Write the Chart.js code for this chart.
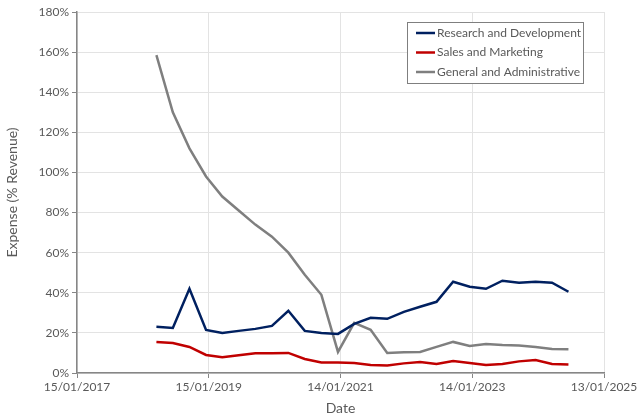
<!DOCTYPE html>
<html>
<head>
<meta charset="utf-8">
<script src="https://cdn.jsdelivr.net/npm/chart.js@4/dist/chart.umd.min.js"></script>
<style>
html,body{margin:0;padding:0;background:#fff;}
#wrap{width:640px;height:417px;position:relative;}
</style>
</head>
<body>
<div id="wrap"><canvas id="c" width="640" height="417"></canvas></div>
<script>
const dates = ['2018-03-31','2018-06-30','2018-09-30','2018-12-31',
  '2019-03-31','2019-06-30','2019-09-30','2019-12-31',
  '2020-03-31','2020-06-30','2020-09-30','2020-12-31',
  '2021-03-31','2021-06-30','2021-09-30','2021-12-31',
  '2022-03-31','2022-06-30','2022-09-30','2022-12-31',
  '2023-03-31','2023-06-30','2023-09-30','2023-12-31',
  '2024-03-31','2024-06-30'];
const researchDev = [23,22.5,42,21.5,20,21,22,23.5,31,21,20,19.5,24.5,27.5,27,30.5,33,35.5,45.5,43,42,46,45,45.5,45,40.5];
const salesMarketing = [15.5,15,13,9,7.8,8.8,9.8,9.8,10,7,5.2,5.2,5,4,3.8,4.8,5.5,4.5,6,5,4,4.5,5.8,6.5,4.5,4.2];
const generalAdmin = [158.5,130,112,98,88,81,74,68,60,49,39,10.5,25,21.5,10,10.3,10.5,13,15.5,13.5,14.5,14,13.7,13,12,11.8];
const seriesNames = ['Research and Development','Sales and Marketing','General and Administrative'];
const xTickStart = '2017-01-15', xTickEnd = '2025-01-13', xTickStepDays = 730;
const yTickMax = 180, yTickStep = 20;

const EPOCH = Date.UTC(1899,11,30);
function serial(s){const [y,m,d]=s.split('-').map(Number);return Math.round((Date.UTC(y,m-1,d)-EPOCH)/86400000);}
function fmt(n){const d=new Date(EPOCH+n*86400000);const p=v=>String(v).padStart(2,'0');return p(d.getUTCDate())+'/'+p(d.getUTCMonth()+1)+'/'+d.getUTCFullYear();}
const toPts = arr => arr.map((v,i)=>({x:serial(dates[i]),y:v}));

const FONT = 'Lato, "Open Sans", sans-serif';
const TXT = '#595959';
const colors = ['#002060','#c00000','#7f7f7f'];

const legendBox = {
  id:'legendBox',
  afterDraw(chart){
    const ctx=chart.ctx;
    const x=407,y=22,w=176,h=61;
    ctx.save();
    ctx.fillStyle='#fff';ctx.fillRect(x,y,w,h);
    ctx.strokeStyle='#7f7f7f';ctx.lineWidth=1;ctx.strokeRect(x+0.5,y+0.5,w,h);
    ctx.font='12px '+FONT;ctx.textBaseline='middle';ctx.fillStyle=TXT;
    chart.data.datasets.forEach((ds,i)=>{
      const ly=y+11+i*19.5;
      ctx.strokeStyle=ds.borderColor;ctx.lineWidth=2.5;
      ctx.beginPath();ctx.moveTo(x+9,ly);ctx.lineTo(x+28,ly);ctx.stroke();
      ctx.fillStyle=TXT;ctx.fillText(ds.label,x+30,ly);
    });
    ctx.restore();
  }
};

new Chart(document.getElementById('c'),{
  type:'line',
  data:{datasets:[
    {label:seriesNames[0],data:toPts(researchDev),borderColor:colors[0],backgroundColor:colors[0]},
    {label:seriesNames[1],data:toPts(salesMarketing),borderColor:colors[1],backgroundColor:colors[1]},
    {label:seriesNames[2],data:toPts(generalAdmin),borderColor:colors[2],backgroundColor:colors[2]}
  ].map(d=>Object.assign(d,{borderWidth:2.5,pointRadius:0,tension:0,fill:false}))},
  options:{
    responsive:false,animation:false,
    layout:{padding:{top:12,right:36,left:0,bottom:0}},
    plugins:{legend:{display:false},tooltip:{enabled:false}},
    scales:{
      x:{type:'linear',min:serial(xTickStart),max:serial(xTickEnd),
        afterBuildTicks(s){const t=[];for(let v=serial(xTickStart);v<=serial(xTickEnd);v+=xTickStepDays)t.push({value:v});s.ticks=t;},
        afterFit(s){s.height=44;},
        ticks:{callback:v=>fmt(v),color:TXT,font:{family:FONT,size:12},maxRotation:0,padding:2},
        grid:{color:'#e3e3e3',tickColor:'#868686',tickLength:5,drawTicks:true},
        border:{color:'#868686',width:1.5},
        title:{display:true,text:'Date',color:TXT,font:{family:FONT,size:14},padding:{top:1,bottom:0}}
      },
      y:{min:0,max:yTickMax,
        afterFit(s){s.width=77;},
        ticks:{stepSize:yTickStep,callback:v=>v+'%',color:TXT,font:{family:FONT,size:12},padding:3},
        grid:{color:'#e3e3e3',tickColor:'#868686',tickLength:5},
        border:{color:'#868686',width:1.5},
        title:{display:true,text:'Expense (% Revenue)',color:TXT,font:{family:FONT,size:14},padding:{top:4,bottom:0}}
      }
    }
  },
  plugins:[legendBox]
});
</script>
</body>
</html>
